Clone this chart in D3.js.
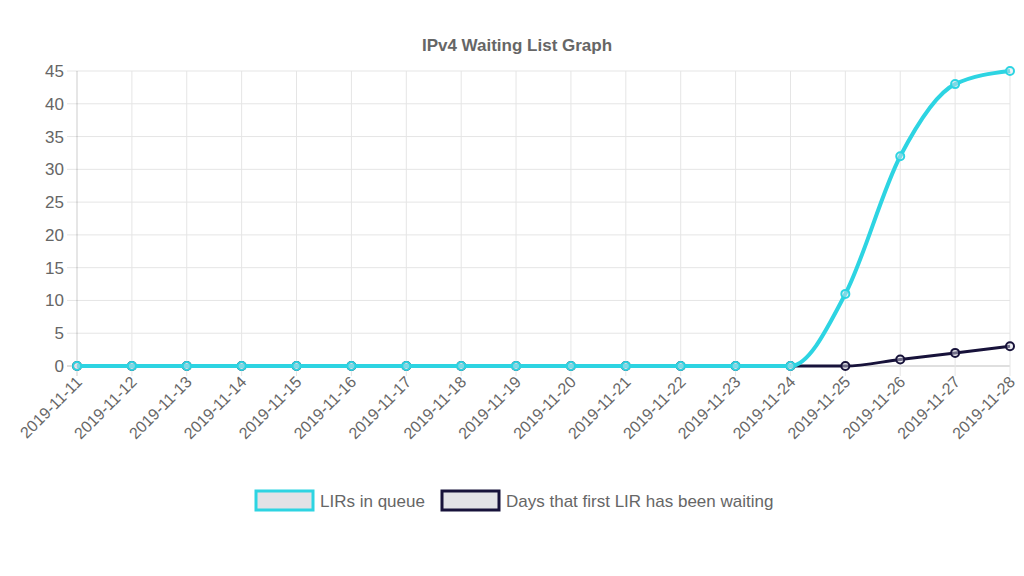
<!DOCTYPE html>
<html>
<head>
<meta charset="utf-8">
<script src="https://cdn.jsdelivr.net/npm/d3@7/dist/d3.min.js"></script>
<style>
  body { margin: 0; background: #fff; }
  text { font-family: "Liberation Sans", Arial, sans-serif; fill: #666; }
</style>
</head>
<body>
<div class="chart"></div>
<script>
// waiting list data
var days = ['2019-11-11', '2019-11-12', '2019-11-13', '2019-11-14', '2019-11-15', '2019-11-16',
  '2019-11-17', '2019-11-18', '2019-11-19', '2019-11-20', '2019-11-21', '2019-11-22',
  '2019-11-23', '2019-11-24', '2019-11-25', '2019-11-26', '2019-11-27', '2019-11-28'];
var lirsInQueue = [0, 0, 0, 0, 0, 0, 0, 0, 0, 0, 0, 0, 0, 0, 11, 32, 43, 45];
var daysWaiting = [0, 0, 0, 0, 0, 0, 0, 0, 0, 0, 0, 0, 0, 0, 0, 1, 2, 3];
var yTicks = [0, 5, 10, 15, 20, 25, 30, 35, 40, 45];

var opts = {
  width: 1024,
  height: 576,
  left: 77,
  right: 1010,
  top: 71,
  bottom: 366
};

var svg = d3.select('.chart').append('svg')
  .attr('width', opts.width).attr('height', opts.height);

var x = d3.scalePoint().domain(days).range([opts.left, opts.right]);
var y = d3.scaleLinear().domain([0, 45]).range([opts.bottom, opts.top]);

// title
svg.append('text').attr('x', 517).attr('y', 51)
  .attr('text-anchor', 'middle').style('font-size', '17px').style('font-weight', 'bold')
  .text('IPv4 Waiting List Graph');

// grid
var grid = svg.append('g');
grid.selectAll('.hg').data(yTicks).enter().append('line')
  .attr('x1', opts.left - 10).attr('x2', opts.right)
  .attr('y1', d => y(d)).attr('y2', d => y(d))
  .attr('stroke', d => d === 0 ? 'rgba(0,0,0,0.25)' : '#e5e5e5').attr('stroke-width', 1);
grid.selectAll('.vg').data(days).enter().append('line')
  .attr('x1', d => x(d)).attr('x2', d => x(d))
  .attr('y1', opts.top).attr('y2', opts.bottom + 10)
  .attr('stroke', (d, i) => i === 0 ? 'rgba(0,0,0,0.2)' : '#e5e5e5').attr('stroke-width', 1);

// y labels
svg.append('g').selectAll('text').data(yTicks).enter().append('text')
  .attr('x', 64).attr('y', d => y(d) + 6)
  .attr('text-anchor', 'end').style('font-size', '17px')
  .text(d => d);

// x labels
svg.append('g').selectAll('text').data(days).enter().append('text')
  .attr('text-anchor', 'end').style('font-size', '16px')
  .attr('transform', d => `translate(${x(d) + 6},${opts.bottom + 17}) rotate(-45)`)
  .text(d => d);

var line = d3.line().x((d, i) => x(days[i])).y(d => y(d)).curve(d3.curveMonotoneX);

var series = [
  { values: daysWaiting, color: '#17123a', width: 3 },
  { values: lirsInQueue, color: '#2dd4e2', width: 4 }
];

series.forEach(function(s) {
  svg.append('path').datum(s.values)
    .attr('d', line).attr('fill', 'none')
    .attr('stroke', s.color).attr('stroke-width', s.width);
  svg.append('g').selectAll('circle').data(s.values).enter().append('circle')
    .attr('cx', (d, i) => x(days[i])).attr('cy', d => y(d)).attr('r', 4)
    .attr('fill', 'rgba(225,225,232,0.45)')
    .attr('stroke', s.color).attr('stroke-width', 2);
});

// legend
var legendItems = [
  { label: 'LIRs in queue', color: '#2dd4e2', x: 256 },
  { label: 'Days that first LIR has been waiting', color: '#17123a', x: 442 }
];
var legend = svg.append('g');
legendItems.forEach(function(l) {
  legend.append('rect').attr('x', l.x).attr('y', 491).attr('width', 57).attr('height', 19)
    .attr('fill', '#e2e2e6').attr('stroke', l.color).attr('stroke-width', 3);
  legend.append('text').attr('x', l.x + 64).attr('y', 507)
    .style('font-size', '17px').text(l.label);
});
</script>
</body>
</html>
